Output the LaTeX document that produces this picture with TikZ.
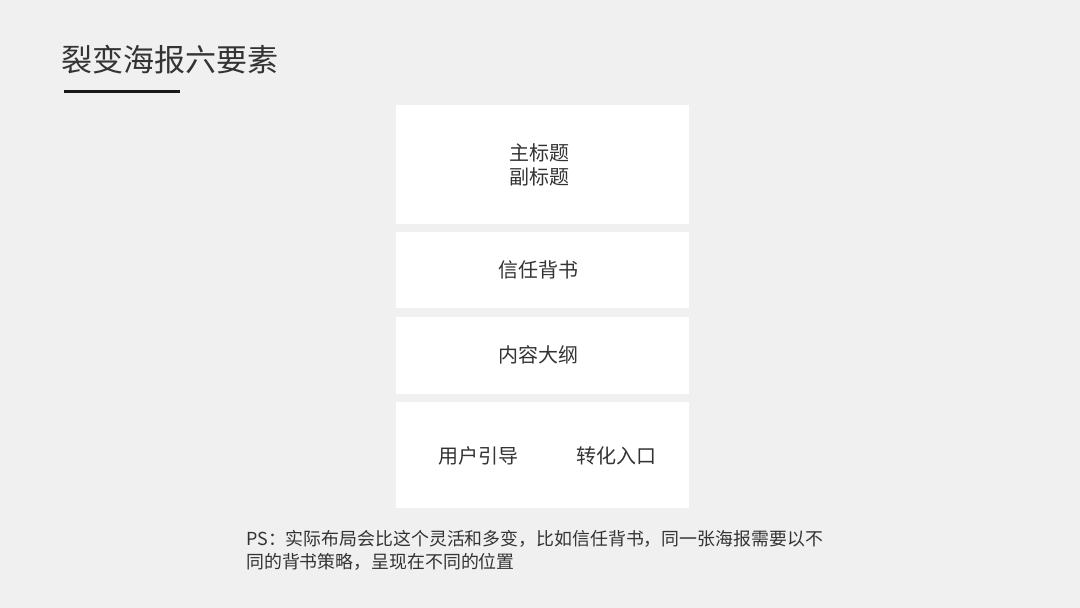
\documentclass[tikz,border=0pt]{standalone}
\usepackage{fontspec}
\setmainfont{Noto Sans CJK SC}
\newfontfamily\cjk{Noto Sans CJK SC}
\definecolor{bg}{HTML}{F0F0F0}
\definecolor{txt}{HTML}{333333}
\begin{document}
\begin{tikzpicture}[x=1pt,y=-1pt,
  card/.style={fill=white,draw=none},
  lbl/.style={text=txt,font=\cjk\fontsize{20}{24}\selectfont,inner sep=0pt,align=center}]
\fill[bg] (0,0) rectangle (1080,608);
\useasboundingbox (0,0) rectangle (1080,608);
% title
\node[anchor=west,inner sep=0pt,text=txt,font=\cjk\fontsize{31}{36}\selectfont] (title) at (61,60) {裂变海报六要素};
\coordinate (ul1) at (64,91);
\coordinate (ul2) at (180,91);
\draw[line width=3pt,black!90] (ul1) -- (ul2);
% cards
\fill[card] (396,105) rectangle (689,224);
\fill[card] (396,232) rectangle (689,308);
\fill[card] (396,317) rectangle (689,394);
\fill[card] (396,402) rectangle (689,508);
\node[lbl] (t1) at (539,165) {主标题\\副标题};
\node[lbl] (t2) at (538,270) {信任背书};
\node[lbl] (t3) at (538,355) {内容大纲};
\node[lbl] (t4a) at (478,456) {用户引导};
\node[lbl] (t4b) at (616,456) {转化入口};
% footnote
\node[anchor=north west,inner sep=0pt,text=txt,align=left,font=\cjk\fontsize{17.9}{23}\selectfont] (ps) at (246,530) {PS：实际布局会比这个灵活和多变，比如信任背书，同一张海报需要以不\\同的背书策略，呈现在不同的位置};
\end{tikzpicture}
\end{document}
